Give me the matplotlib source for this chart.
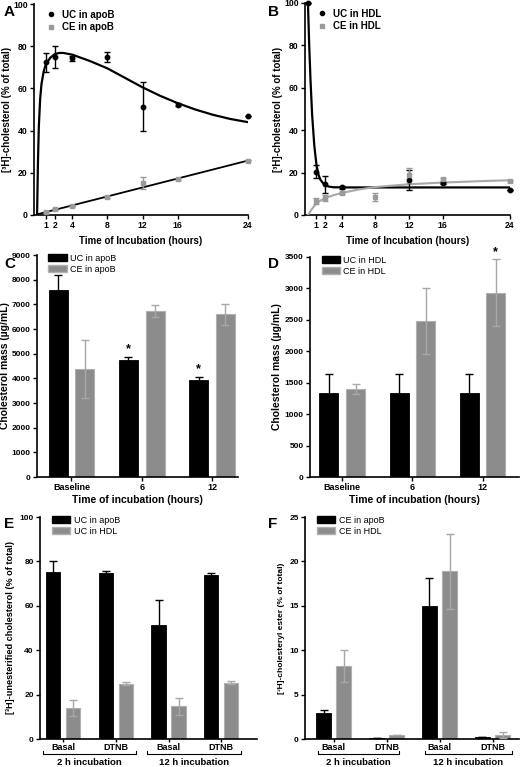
import numpy as np
import matplotlib
matplotlib.use('Agg')
import matplotlib.pyplot as plt
import matplotlib.transforms as mtransforms
from matplotlib.patches import Patch
from matplotlib.lines import Line2D

plt.rcParams['font.family'] = ['Liberation Sans', 'DejaVu Sans']
plt.rcParams['axes.linewidth'] = 1.2
plt.rcParams['xtick.major.width'] = 1.0
plt.rcParams['ytick.major.width'] = 1.0
plt.rcParams['xtick.major.size'] = 3
plt.rcParams['ytick.major.size'] = 3

BLACK = '#000000'
GREY = '#8c8c8c'
GREY_EDGE = '#b0b0b0'
GREY_ERR = '#a8a8a8'
GREY_PT = '#9a9a9a'

# ── data: time course (A, B) ────────────────────────────────────────────────
t_pts = [1, 2, 4, 8, 12, 16, 24]
a_uc = [72.3, 75.0, 74.2, 75.0, 51.3, 52.3, 47.1]
a_uc_err = [4.3, 5.3, 1.0, 2.4, 11.6, 0.8, 0.0]
a_ce = [1.6, 2.8, 4.1, 8.5, 15.1, 16.9, 25.7]
a_ce_err = [0.3, 0.4, 0.4, 0.5, 3.0, 0.5, 0.3]

# fitted curves
a_fit_t = [0, 0.1, 0.2, 0.35, 0.5, 0.75, 1, 1.5, 2, 2.5, 3, 4, 5, 6, 8, 10,
           12, 14, 16, 18, 20, 22, 24]
a_uc_fit = [0, 25, 42, 55, 62, 68, 71.5, 74.5, 76.2, 76.8, 76.8, 76.0, 74.5,
            73.0, 69.5, 65.0, 60.5, 56.5, 53.0, 50.0, 47.5, 45.5, 44.0]
a_ce_fit_t = [0, 24]
a_ce_fit = [0.3, 25.8]

b_t_uc = [0, 1, 2, 4, 12, 16, 24]
b_uc = [100, 20.5, 14.4, 13.0, 16.3, 15.1, 11.8]
b_uc_err = [0, 3.0, 4.1, 0.7, 4.7, 0.6, 0.0]
b_t_ce = [1, 2, 4, 8, 12, 16, 24]
b_ce = [6.6, 7.9, 10.4, 8.4, 18.8, 16.8, 16.1]
b_ce_err = [1.3, 1.4, 0.6, 1.8, 3.5, 0.8, 0.3]

b_uc_fit_t = [0, 0.15, 0.3, 0.5, 0.75, 1, 1.25, 1.5, 2, 2.5, 3, 4, 8, 24]
b_uc_fit = [100, 80, 64, 47, 33, 24, 19, 16.5, 14.0, 13.4, 13.1, 13.0, 13.0, 13.0]
b_ce_fit_t = [0, 0.5, 1, 1.5, 2, 3, 4, 6, 8, 12, 16, 20, 24]
b_ce_fit = [0, 3.0, 5.4, 6.8, 7.9, 9.3, 10.4, 12.0, 13.2, 14.5, 15.3, 15.9, 16.4]

# ── data: bar panels (C, D) ─────────────────────────────────────────────────
time_groups = ['Baseline', '6', '12']
c_uc = [7570, 4760, 3950]
c_uc_err = [615, 110, 110]
c_ce = [4380, 6725, 6590]
c_ce_err = [1170, 250, 440]

d_uc = [1340, 1340, 1340]
d_uc_err = [300, 300, 300]
d_ce = [1405, 2484, 2932]
d_ce_err = [80, 530, 530]

# ── data: bar panels (E, F) ─────────────────────────────────────────────────
treat_groups = ['Basal', 'DTNB', 'Basal', 'DTNB']
incub_labels = ['2 h incubation', '12 h incubation']
e_apob = [75.1, 74.8, 51.5, 74.0]
e_apob_err = [4.9, 0.7, 11.3, 0.8]
e_hdl = [13.8, 24.9, 14.7, 25.4]
e_hdl_err = [3.6, 0.8, 3.8, 0.6]

f_apob = [2.89, 0.11, 14.94, 0.19]
f_apob_err = [0.34, 0.0, 3.2, 0.0]
f_hdl = [8.18, 0.41, 18.88, 0.49]
f_hdl_err = [1.8, 0.0, 4.24, 0.34]

W, H = 524, 767
fig = plt.figure(figsize=(W / 100, H / 100), dpi=100)


def px_axes(l, r, t, b):
    return fig.add_axes([l / W, 1 - b / H, (r - l) / W, (b - t) / H])


def style(ax, size=6):
    ax.spines['top'].set_visible(False)
    ax.spines['right'].set_visible(False)
    ax.tick_params(labelsize=size, pad=1.5)
    for lab in ax.get_xticklabels() + ax.get_yticklabels():
        lab.set_fontweight('bold')


def time_course(ax, series, ylabel, legend):
    for t, y, e, col, mk, ms in series:
        ax.errorbar(t, y, yerr=e, fmt=mk, color=col, ms=ms, capsize=2.5,
                    elinewidth=1.0, capthick=1.0, clip_on=False, zorder=4)
    ax.set_xlim(-0.35, 24)
    ax.set_ylim(0, 100)
    ax.set_xticks(t_pts)
    ax.set_yticks(range(0, 101, 20))
    ax.set_xlabel('Time of Incubation (hours)', fontsize=7, fontweight='bold')
    ax.set_ylabel(ylabel, fontsize=7, fontweight='bold', labelpad=1)
    h = [Line2D([], [], ls='none', marker='o', color=BLACK, ms=3),
         Line2D([], [], ls='none', marker='s', color=GREY_PT, ms=3)]
    ax.legend(h, legend, loc='upper left', bbox_to_anchor=(0.03, 1.0),
              frameon=False, handlelength=1.0, handletextpad=0.6,
              labelspacing=0.25, borderpad=0.1,
              prop={'size': 7, 'weight': 'bold'})
    style(ax, 6.2)


# ── A ──
axA = px_axes(34, 248, 4, 215)
axA.plot(a_fit_t, a_uc_fit, color=BLACK, lw=1.6, zorder=3)
axA.plot(a_ce_fit_t, a_ce_fit, color=BLACK, lw=1.3, zorder=3)
time_course(axA, [(t_pts, a_uc, a_uc_err, BLACK, 'o', 3.2),
                  (t_pts, a_ce, a_ce_err, GREY_PT, 's', 3.0)],
            '[³H]-cholesterol (% of total)', ['UC in apoB', 'CE in apoB'])

# ── B ──
axB = px_axes(305, 510, 3, 215)
axB.plot(b_uc_fit_t, b_uc_fit, color=BLACK, lw=1.6, zorder=3)
axB.plot(b_ce_fit_t, b_ce_fit, color=GREY_ERR, lw=1.5, zorder=3)
time_course(axB, [(b_t_uc, b_uc, b_uc_err, BLACK, 'o', 3.2),
                  (b_t_ce, b_ce, b_ce_err, GREY_PT, 's', 3.0)],
            '[³H]-cholesterol (% of total)', ['UC in HDL', 'CE in HDL'])


def bar_panel(ax, labels, v1, e1, v2, e2, legend, off, width):
    x = np.arange(len(labels))
    ax.bar(x - off, v1, width, color=BLACK, edgecolor=BLACK, lw=0.6, zorder=2)
    ax.errorbar(x - off, v1, yerr=e1, fmt='none', ecolor=BLACK, capsize=3,
                elinewidth=1.0, capthick=1.0, zorder=1)
    ax.bar(x + off, v2, width, color=GREY, edgecolor=GREY_EDGE, lw=0.8, zorder=2)
    ax.errorbar(x + off, v2, yerr=e2, fmt='none', ecolor=GREY_ERR, capsize=3,
                elinewidth=1.0, capthick=1.0, zorder=3)
    ax.set_xticks(x)
    ax.set_xticklabels(labels)
    h = [Patch(facecolor=BLACK, edgecolor=BLACK),
         Patch(facecolor=GREY, edgecolor=GREY_EDGE)]
    ax.legend(h, legend, loc='upper left', bbox_to_anchor=(0.03, 1.03),
              frameon=False, handlelength=2.0, handleheight=0.9,
              handletextpad=0.4, labelspacing=0.2, borderpad=0.1,
              prop={'size': 6.5})
    return x


# ── C ──
axC = px_axes(37, 238, 255, 477)
xc = bar_panel(axC, time_groups, c_uc, c_uc_err, c_ce, c_ce_err,
               ['UC in apoB', 'CE in apoB'], 0.19, 0.27)
axC.set_xlim(-0.49, 2.37)
axC.set_ylim(0, 9000)
axC.set_yticks(range(0, 9001, 1000))
axC.set_xlabel('Time of incubation (hours)', fontsize=7.5, fontweight='bold',
               labelpad=2)
axC.set_ylabel('Cholesterol mass (µg/mL)', fontsize=7.5, fontweight='bold',
               labelpad=1)
for i in (1, 2):
    axC.text(xc[i] - 0.19, c_uc[i] + c_uc_err[i] + 80, '*', ha='center',
             va='bottom', fontsize=9, fontweight='bold')
style(axC, 6)
axC.tick_params(axis='x', labelsize=6.5)

# ── D ──
axD = px_axes(310, 519, 257, 477)
xd = bar_panel(axD, time_groups, d_uc, d_uc_err, d_ce, d_ce_err,
               ['UC in HDL', 'CE in HDL'], 0.19, 0.27)
axD.set_xlim(-0.46, 2.52)
axD.set_ylim(0, 3500)
axD.set_yticks(range(0, 3501, 500))
axD.set_xlabel('Time of incubation (hours)', fontsize=7.5, fontweight='bold',
               labelpad=2)
axD.set_ylabel('Cholesterol mass (µg/mL)', fontsize=7.5, fontweight='bold',
               labelpad=2)
axD.text(xd[2] + 0.19, d_ce[2] + d_ce_err[2] + 20, '*', ha='center',
         va='bottom', fontsize=9, fontweight='bold')
style(axD, 6)
axD.tick_params(axis='x', labelsize=6.5)


def brackets(ax, spans, y_line, y_text):
    tr = mtransforms.blended_transform_factory(ax.transData, ax.transAxes)
    for (x0, x1), lab in zip(spans, incub_labels):
        ax.plot([x0, x0, x1, x1], [y_line + 0.01, y_line, y_line, y_line + 0.01],
                color=BLACK, lw=0.8, transform=tr, clip_on=False)
        ax.text((x0 + x1) / 2, y_text, lab, transform=tr, ha='center',
                va='top', fontsize=6.8, fontweight='bold')


# ── E ──
axE = px_axes(40, 257, 517, 739)
bar_panel(axE, treat_groups, e_apob, e_apob_err, e_hdl, e_hdl_err,
          ['UC in apoB', 'UC in HDL'], 0.19, 0.275)
axE.set_xlim(-0.44, 3.68)
axE.set_ylim(0, 100)
axE.set_yticks(range(0, 101, 20))
axE.set_ylabel('[³H]-unesterified cholesterol (% of total)', fontsize=6.6,
               fontweight='bold', labelpad=3)
style(axE, 6)
axE.tick_params(axis='x', labelsize=6.5, length=2, pad=1)
brackets(axE, [(-0.385, 1.385), (1.6, 3.38)], -0.066, -0.084)

# ── F ──
axF = px_axes(305, 519, 517, 739)
bar_panel(axF, treat_groups, f_apob, f_apob_err, f_hdl, f_hdl_err,
          ['CE in apoB', 'CE in HDL'], 0.19, 0.28)
axF.set_xlim(-0.54, 3.5)
axF.set_ylim(0, 25)
axF.set_yticks(range(0, 26, 5))
axF.set_ylabel('[³H]-cholesteryl ester (% of total)', fontsize=6,
               fontweight='bold', labelpad=3)
style(axF, 6)
axF.tick_params(axis='x', labelsize=6.5, length=2, pad=1)
brackets(axF, [(-0.29, 1.24), (1.72, 3.36)], -0.066, -0.084)

for lab, x, y in [('A', 4, 12), ('B', 268, 12), ('C', 4, 264),
                  ('D', 268, 264), ('E', 4, 524), ('F', 268, 524)]:
    fig.text(x / W, 1 - y / H, lab, fontsize=11, fontweight='bold',
             va='center', ha='left')

fig.savefig('out.png', dpi=100)
